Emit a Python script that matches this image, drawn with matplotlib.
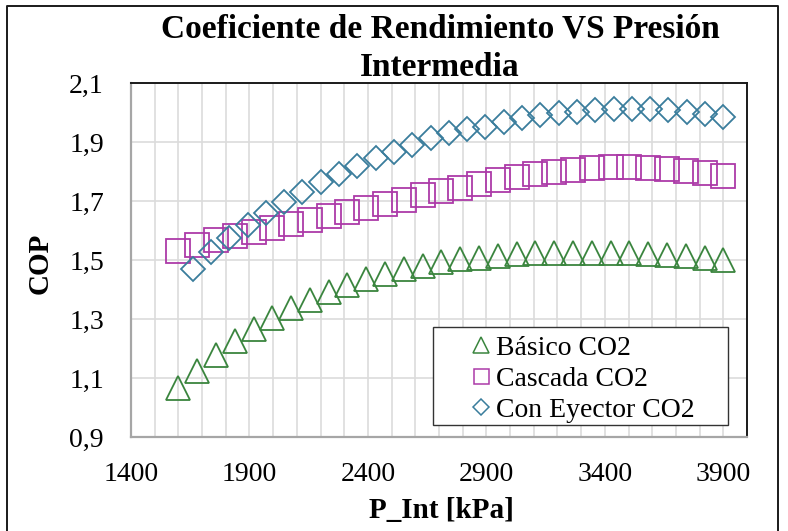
import numpy as np
import matplotlib
matplotlib.use('Agg')
from matplotlib import pyplot as plt
from matplotlib.ticker import MultipleLocator, FuncFormatter
from matplotlib.lines import Line2D
from matplotlib.patches import Rectangle
from matplotlib.legend_handler import HandlerLine2D

# presión intermedia [kPa]
p_basico = np.linspace(1600, 3900, 30)
p_eyector = np.linspace(1660, 3900, 30)

cop_basico = [1.065, 1.123, 1.177, 1.224, 1.266, 1.302, 1.337, 1.365, 1.393, 1.415,
              1.434, 1.451, 1.469, 1.481, 1.492, 1.502, 1.508, 1.515, 1.521, 1.524,
              1.525, 1.524, 1.525, 1.524, 1.524, 1.521, 1.518, 1.513, 1.506, 1.499]
cop_cascada = [1.531, 1.552, 1.568, 1.582, 1.596, 1.609, 1.623, 1.636, 1.648, 1.664,
               1.676, 1.690, 1.704, 1.719, 1.733, 1.745, 1.757, 1.770, 1.780, 1.791,
               1.797, 1.805, 1.811, 1.815, 1.815, 1.813, 1.808, 1.802, 1.796, 1.785]
cop_eyector = [1.471, 1.526, 1.576, 1.619, 1.660, 1.698, 1.732, 1.763, 1.790, 1.819,
               1.845, 1.867, 1.890, 1.913, 1.929, 1.943, 1.952, 1.969, 1.980, 1.992,
               2.000, 2.003, 2.008, 2.011, 2.012, 2.011, 2.008, 2.003, 1.994, 1.984]

series = ['Básico CO2', 'Cascada CO2', 'Con Eyector CO2']
xticks = [1400, 1900, 2400, 2900, 3400, 3900]
yticks = [0.9, 1.1, 1.3, 1.5, 1.7, 1.9, 2.1]

verde, magenta, azul = '#3a853e', '#ac3aa8', '#3a7d9c'

plt.rcParams['font.family'] = ['Liberation Serif', 'DejaVu Serif']

W, H = 788, 531
fig = plt.figure(figsize=(W / 100, H / 100), dpi=100)
x0, x1, y0, y1 = 131, 747, 83, 437
ax = fig.add_axes([x0 / W, 1 - y1 / H, (x1 - x0) / W, (y1 - y0) / H])

ax.plot(p_basico, cop_basico, linestyle='none', marker='^', ms=17.5, mfc='none', mec=verde, mew=1.3)
ax.plot(p_basico, cop_cascada, linestyle='none', marker='s', ms=17.3, mfc='none', mec=magenta, mew=1.3)
ax.plot(p_eyector, cop_eyector, linestyle='none', marker='D', ms=12.3, mfc='none', mec=azul, mew=1.3)

ax.set_xlim(1400, 4000)
ax.set_ylim(0.9, 2.1)
ax.set_xticks(xticks)
ax.set_yticks(yticks)
ax.xaxis.set_minor_locator(MultipleLocator(100))
ax.yaxis.set_major_formatter(FuncFormatter(lambda v, pos: f'{v:.1f}'.replace('.', ',')))
ax.grid(True, which='both', axis='x', color='#dcdcdc', lw=1.2)
ax.grid(True, which='major', axis='y', color='#dcdcdc', lw=1.2)
ax.set_axisbelow(True)
ax.tick_params(which='both', length=0, labelsize=20)
ax.tick_params(axis='x', pad=18)
ax.tick_params(axis='y', pad=19.5)

for s in ['left', 'bottom']:
    ax.spines[s].set_color('#a6a6a6')
    ax.spines[s].set_linewidth(1.6)
for s in ['top', 'right']:
    ax.spines[s].set_color('#1a1a1a')
    ax.spines[s].set_linewidth(1.4)

ax.set_xlabel('P_Int [kPa]', fontsize=21, fontweight='bold')
ax.set_ylabel('COP', fontsize=21, fontweight='bold')
ax.xaxis.set_label_coords((441 - x0) / (x1 - x0), (y1 - 497) / (y1 - y0))
ax.yaxis.set_label_coords((54 - x0) / (x1 - x0), 0.49)

fig.text(440 / W, 1 - 29 / H, 'Coeficiente de Rendimiento VS Presión', ha='center', va='center',
         fontsize=24, fontweight='bold')
fig.text(440 / W, 1 - 67 / H, 'Intermedia', ha='center', va='center', fontsize=24, fontweight='bold')

# leyenda: marco dibujado aparte, como en Excel
ax.add_patch(Rectangle((433 / W, 1 - 425 / H), (728 - 433) / W, (425 - 327) / H, transform=fig.transFigure,
                       facecolor='white', edgecolor='#333333', lw=1.0, zorder=4.5))
handles = [Line2D([], [], linestyle='none', marker='^', ms=12, mfc='none', mec=verde, mew=1.1),
           Line2D([], [], linestyle='none', marker='s', ms=10.8, mfc='none', mec=magenta, mew=1.1),
           Line2D([], [], linestyle='none', marker='D', ms=8.5, mfc='none', mec=azul, mew=1.1)]
leg = ax.legend(handles, series, loc='upper left', bbox_to_anchor=(433 / W, 1 - 330 / H),
                bbox_transform=fig.transFigure, fontsize=20, frameon=False,
                handlelength=1.85, handletextpad=0.2, borderpad=0.2, labelspacing=0.2, borderaxespad=0,
                handler_map={Line2D: HandlerLine2D(xpad=1.24)})

# marco exterior del gráfico
fig.add_artist(Line2D([7 / W, 7 / W, 778 / W, 778 / W], [0, 1 - 6 / H, 1 - 6 / H, 0],
                      transform=fig.transFigure, color='#1a1a1a', lw=1.4))

fig.savefig('out.png', dpi=100)
